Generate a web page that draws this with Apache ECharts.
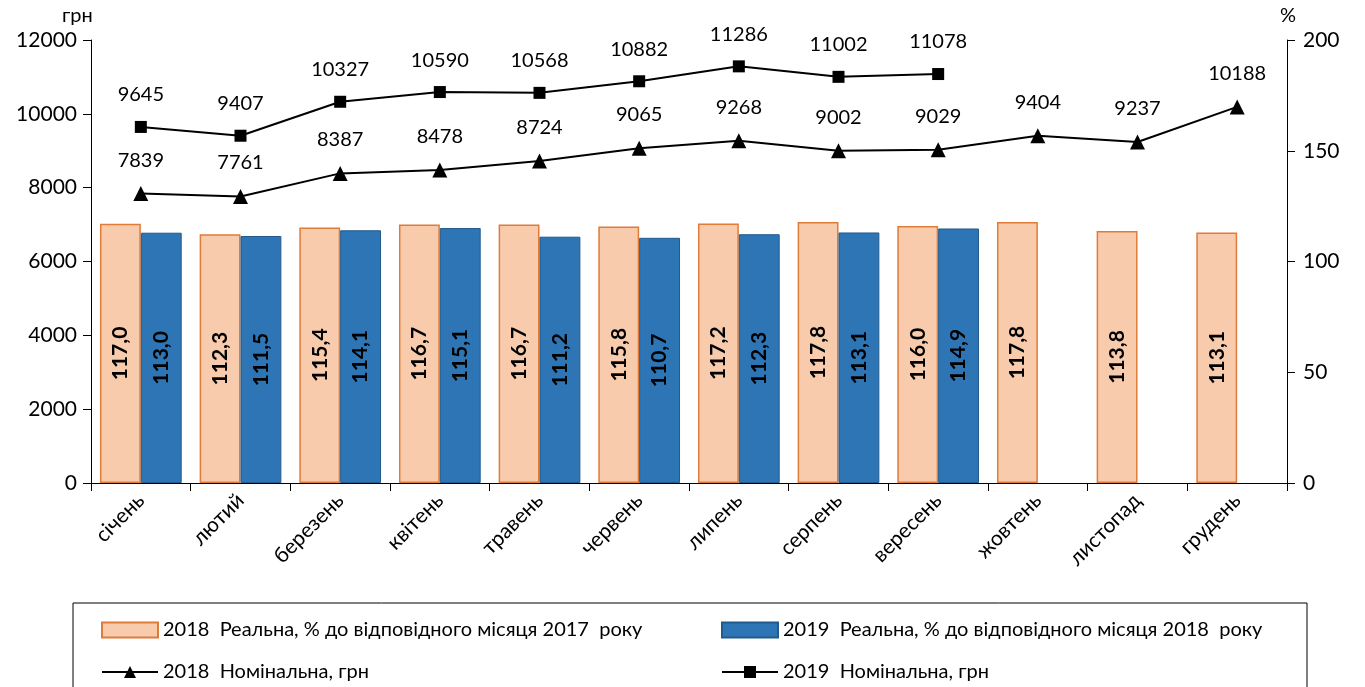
<!DOCTYPE html>
<html><head><meta charset="utf-8">
<script src="https://cdn.jsdelivr.net/npm/echarts@6/dist/echarts.min.js"></script>
<style>html,body{margin:0;padding:0;background:#fff}#c{width:1365px;height:687px}</style>
</head><body><div id="c"></div>
<script>
const months = ['січень','лютий','березень','квітень','травень','червень','липень','серпень','вересень','жовтень','листопад','грудень'];
const real2018 = [117.0,112.3,115.4,116.7,116.7,115.8,117.2,117.8,116.0,117.8,113.8,113.1];
const real2019 = [113.0,111.5,114.1,115.1,111.2,110.7,112.3,113.1,114.9,null,null,null];
const nom2018 = [7839,7761,8387,8478,8724,9065,9268,9002,9029,9404,9237,10188];
const nom2019 = [9645,9407,10327,10590,10568,10882,11286,11002,11078,null,null,null];
const leftTicks = {min:0,max:12000,interval:2000};
const rightTicks = {min:0,max:200,interval:50};
const names = ['2018  Реальна, % до відповідного місяця 2017  року','2019  Реальна, % до відповідного місяця 2018  року','2018  Номінальна, грн','2019  Номінальна, грн'];

const F = 'Lato, Carlito, "Open Sans", sans-serif';
const chart = echarts.init(document.getElementById('c'));
const barLabel = {show:true,position:'inside',rotate:90,color:'#000',fontWeight:'bold',fontSize:21,fontFamily:F,
  formatter:p=>p.value==null?'':Number(p.value).toFixed(1).replace('.',',')};
const lineLabel = {show:true,position:'top',distance:16,color:'#000',fontSize:20,fontFamily:F};
function leg(name,left,top,icon){
  const o = {data:[name],left:left,top:top,itemWidth:56,itemHeight:15,itemGap:5,
    textStyle:{fontSize:20,color:'#000',fontFamily:F}};
  if(icon) o.icon = icon;
  return o;
}
chart.setOption({
  animation:false,
  textStyle:{fontFamily:F},
  grid:{left:91,right:78,top:40,bottom:204},
  legend:[leg(names[0],96,615,'rect'),leg(names[1],716,615,'rect'),leg(names[2],96,657),leg(names[3],716,657)],
  graphic:[
    {type:'rect',shape:{x:73,y:603,width:1234,height:120},style:{fill:'none',stroke:'#000',lineWidth:1},silent:true},
    {type:'text',left:62,top:6,style:{text:'грн',fontSize:20,fill:'#000',fontFamily:F}},
    {type:'text',left:1280,top:6,style:{text:'%',fontSize:20,fill:'#000',fontFamily:F}}
  ],
  xAxis:{type:'category',data:months,
    axisLine:{lineStyle:{color:'#000',width:1}},
    axisTick:{show:true,length:8,lineStyle:{color:'#000'}},
    axisLabel:{rotate:45,fontSize:21,color:'#000',margin:14,fontFamily:F}},
  yAxis:[
    {type:'value',min:leftTicks.min,max:leftTicks.max,interval:leftTicks.interval,position:'left',
     axisLine:{show:true,lineStyle:{color:'#000'}},axisTick:{show:true,length:8,lineStyle:{color:'#000'}},
     splitLine:{show:false},axisLabel:{fontSize:21,color:'#000',margin:14,fontFamily:F,formatter:v=>String(v)}},
    {type:'value',min:rightTicks.min,max:rightTicks.max,interval:rightTicks.interval,position:'right',
     axisLine:{show:true,lineStyle:{color:'#000'}},axisTick:{show:true,length:8,lineStyle:{color:'#000'}},
     splitLine:{show:false},axisLabel:{fontSize:21,color:'#000',margin:16,fontFamily:F,formatter:v=>String(v)}}
  ],
  series:[
    {name:names[0],type:'bar',yAxisIndex:1,data:real2018,barGap:'0%',barCategoryGap:'18%',
     itemStyle:{color:'#F8CBAD',borderColor:'#E07B39',borderWidth:1.5},label:barLabel},
    {name:names[1],type:'bar',yAxisIndex:1,data:real2019,
     itemStyle:{color:'#2E75B6',borderColor:'#215A8C',borderWidth:1},label:barLabel},
    {name:names[2],type:'line',yAxisIndex:0,data:nom2018,symbol:'triangle',symbolSize:15,
     lineStyle:{color:'#000',width:2},itemStyle:{color:'#000'},label:lineLabel},
    {name:names[3],type:'line',yAxisIndex:0,data:nom2019,symbol:'rect',symbolSize:12,
     lineStyle:{color:'#000',width:2},itemStyle:{color:'#000'},label:lineLabel}
  ]
});
</script></body></html>
